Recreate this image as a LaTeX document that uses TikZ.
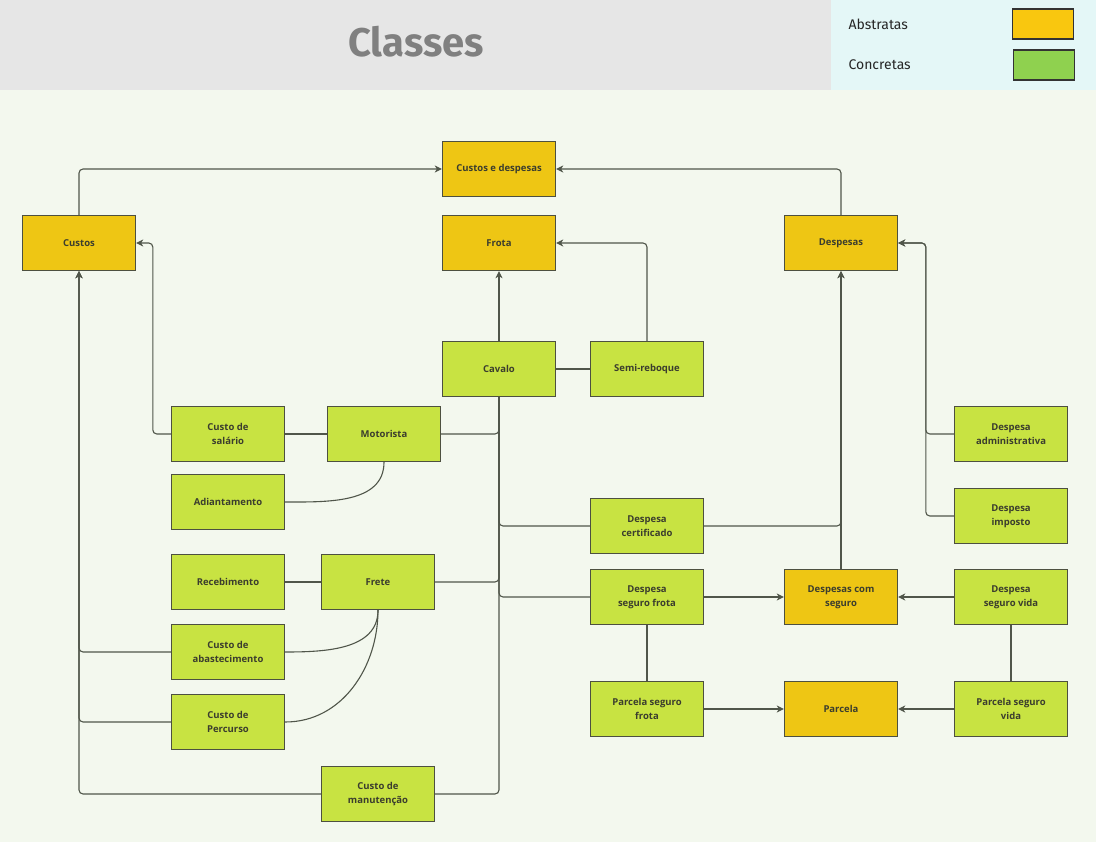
\documentclass[tikz,border=0pt]{standalone}
\usepackage{fontspec}
\setmainfont{Open Sans}
\newfontfamily\condfont{Fira Sans}
\usetikzlibrary{arrows.meta}

\definecolor{fundo}{HTML}{F3F8EE}
\definecolor{faixa}{HTML}{E6E6E6}
\definecolor{legfundo}{HTML}{E4F7F7}
\definecolor{amarelo}{HTML}{EEC614}
\definecolor{verde}{HTML}{C8E342}
\definecolor{legamarelo}{HTML}{F9C70F}
\definecolor{legverde}{HTML}{8FD14F}
\definecolor{borda}{HTML}{4D5040}
\definecolor{linha}{HTML}{50564A}
\definecolor{texto}{HTML}{3B3D2E}
\definecolor{titulo}{HTML}{808080}

\tikzset{
	caixa/.style={draw=borda, line width=1.4pt, minimum width=113pt, minimum height=55pt, inner sep=0pt, align=center, text=texto, font=\fontsize{9.5}{14}\selectfont\bfseries},
	abstrata/.style={caixa, fill=amarelo},
	concreta/.style={caixa, fill=verde},
	liga/.style={draw=linha, line width=1.1pt, rounded corners=4pt},
	seta/.style={liga, -{Stealth[length=7pt,width=7pt,inset=2pt]}},
	legenda/.style={draw=black!80, line width=1.2pt, minimum width=61pt, minimum height=30pt, inner sep=0pt},
}

\begin{document}
\begin{tikzpicture}[x=1pt,y=-1pt]
\useasboundingbox (0,0) rectangle (1096,842);
% fundos
\fill[fundo] (0,0) rectangle (1096,842);
\fill[faixa] (0,0) rectangle (831,90);
\fill[legfundo] (831,0) rectangle (1096,90);
\node[text=titulo, font=\condfont\fontsize{40}{40}\selectfont\bfseries] (titulo) at (416,42) {Classes};

% legenda
\node[legenda, fill=legamarelo] (legabs) at (1043,24) {};
\node[legenda, fill=legverde] (legcon) at (1044,65) {};
\node[anchor=west, text=black!85, font=\condfont\fontsize{14}{14}\selectfont] (txtabs) at (845,24) {Abstratas};
\node[anchor=west, text=black!85, font=\condfont\fontsize{14}{14}\selectfont] (txtcon) at (845,65) {Concretas};

% classes abstratas
\node[abstrata] (cd) at (499,169) {Custos e despesas};
\node[abstrata] (custos) at (79,243) {Custos};
\node[abstrata] (frota) at (499,243) {Frota};
\node[abstrata] (desp) at (841,243) {Despesas};
\node[abstrata] (dseg) at (841,597) {Despesas com\\seguro};
\node[abstrata] (parc) at (841,709) {Parcela};

% classes concretas
\node[concreta] (cavalo) at (499,369) {Cavalo};
\node[concreta] (semi) at (647,369) {Semi-reboque};
\node[concreta] (sal) at (228,434) {Custo de\\salário};
\node[concreta] (mot) at (384,434) {Motorista};
\node[concreta] (adi) at (228,502) {Adiantamento};
\node[concreta] (rec) at (228,582) {Recebimento};
\node[concreta] (frete) at (378,582) {Frete};
\node[concreta] (abast) at (228,652) {Custo de\\abastecimento};
\node[concreta] (perc) at (228,722) {Custo de\\Percurso};
\node[concreta] (manut) at (378,794) {Custo de\\manutenção};
\node[concreta] (cert) at (647,526) {Despesa\\certificado};
\node[concreta] (sfrota) at (647,597) {Despesa\\seguro frota};
\node[concreta] (pfrota) at (647,709) {Parcela seguro\\frota};
\node[concreta] (adm) at (1011,434) {Despesa\\administrativa};
\node[concreta] (imp) at (1011,516) {Despesa\\imposto};
\node[concreta] (svida) at (1011,597) {Despesa\\seguro vida};
\node[concreta] (pvida) at (1011,709) {Parcela seguro\\vida};

% ligacoes ao topo
\draw[seta] (custos.north) |- (cd.west);
\draw[seta] (desp.north) |- (cd.east);
\draw[seta] (cavalo.north) -- (frota.south);
\draw[seta] (semi.north) |- (frota.east);
\draw[liga] (cavalo.east) -- (semi.west);

% lado dos custos
\draw[seta] (sal.west) -- ++(-18,0) |- (custos.east);
\draw[liga] (sal.east) -- (mot.west);
\draw[liga] (rec.east) -- (frete.west);
\draw[seta] (abast.west) -| (custos.south);
\draw[seta] (perc.west) -| (custos.south);
\draw[seta] (manut.west) -| (custos.south);
\draw[liga] (mot.south) to[out=-90,in=0] (adi.east);
\draw[liga] (frete.south) to[out=-90,in=0] (abast.east);
\draw[liga] (frete.south) to[out=-90,in=0] (perc.east);

% barramento do cavalo
\draw[liga] (mot.east) -| (cavalo.south);
\draw[liga] (frete.east) -| (cavalo.south);
\draw[liga] (manut.east) -| (cavalo.south);
\draw[liga] (cavalo.south) |- (cert.west);
\draw[liga] (cavalo.south) |- (sfrota.west);

% lado das despesas
\draw[seta] (cert.east) -| (desp.south);
\draw[seta] (dseg.north) -- (desp.south);
\draw[seta] (adm.west) -- ++(-28,0) |- (desp.east);
\draw[seta] (imp.west) -- ++(-28,0) |- (desp.east);
\draw[seta] (sfrota.east) -- (dseg.west);
\draw[seta] (svida.west) -- (dseg.east);
\draw[liga] (sfrota.south) -- (pfrota.north);
\draw[liga] (svida.south) -- (pvida.north);
\draw[seta] (pfrota.east) -- (parc.west);
\draw[seta] (pvida.west) -- (parc.east);
\end{tikzpicture}
\end{document}
